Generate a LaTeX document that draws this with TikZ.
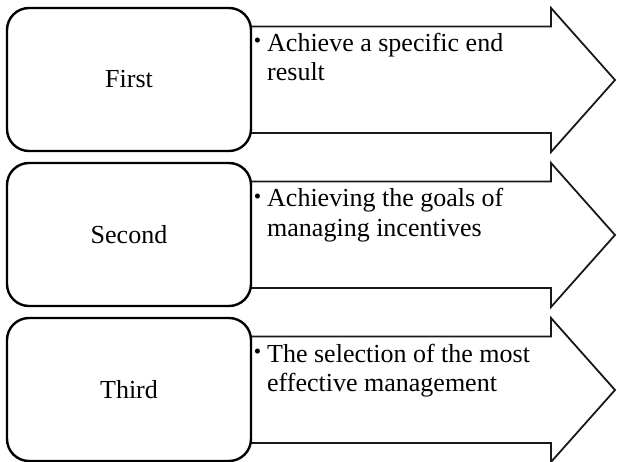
\documentclass[tikz,border=0pt]{standalone}
\usepackage{fontspec}
\setmainfont{Liberation Serif}
\begin{document}
\begin{tikzpicture}[x=1pt,y=-1pt,
  labelbox/.style={draw=black, line width=2.4pt, rounded corners=22pt, fill=white,
    minimum width=244pt, minimum height=143pt, inner sep=0pt,
    font=\fontsize{26}{29}\selectfont},
  arrowshape/.style={draw=black!90, line width=1.8pt, fill=white, line join=miter},
  itemtext/.style={anchor=base west, inner sep=0pt, font=\fontsize{26}{29}\selectfont},
  itemdot/.style={anchor=base, inner sep=0pt, font=\fontsize{21}{21}\selectfont}]
\useasboundingbox (0,0) rectangle (617,462);
\foreach \i/\name/\la/\lb in {0/First/Achieve a specific end/result,
                              1/Second/Achieving the goals of/managing incentives,
                              2/Third/The selection of the most/effective management}{
  \pgfmathsetmacro\T{8+155*\i}
  % block arrow; its left end is hidden beneath the rounded box
  \draw[arrowshape] (230,\T+18.5) -- (551,\T+18.5) -- (551,\T) -- (615,\T+72)
        -- (551,\T+144) -- (551,\T+125) -- (230,\T+125) -- cycle;
  \node[labelbox] (box\i) at (129,\T+71.5) {\name};
  \node[itemdot] (dot\i) at (257.5,\T+40) {\textbullet};
  \node[itemtext] (txt\i) at (267,\T+44)
    {\vtop{\baselineskip=29pt\hbox{\la}\hbox{\lb}}};
}
\end{tikzpicture}
\end{document}
